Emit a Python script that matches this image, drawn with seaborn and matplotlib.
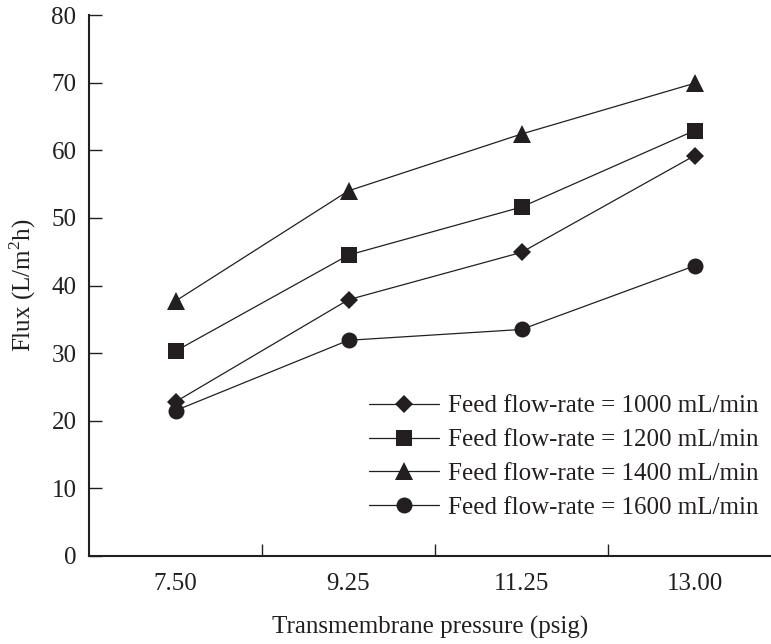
import matplotlib
matplotlib.use("Agg")
import matplotlib.pyplot as plt
import seaborn as sns
import pandas as pd
from matplotlib.ticker import FixedLocator

pressure = ["7.50", "9.25", "11.25", "13.00"]
flow_labels = ["Feed flow-rate = 1000 mL/min", "Feed flow-rate = 1200 mL/min",
               "Feed flow-rate = 1400 mL/min", "Feed flow-rate = 1600 mL/min"]
flux_1000 = [22.8, 37.9, 44.9, 59.2]
flux_1200 = [30.3, 44.5, 51.6, 62.9]
flux_1400 = [37.7, 54.0, 62.4, 69.9]
flux_1600 = [21.5, 31.9, 33.5, 42.9]

rows = []
for lab, vals in zip(flow_labels, [flux_1000, flux_1200, flux_1400, flux_1600]):
    for p, v in zip(pressure, vals):
        rows.append({"pressure": p, "flux": v, "flow": lab})
df = pd.DataFrame(rows)

sns.set_style("ticks")
plt.rcParams["font.family"] = ["Liberation Serif", "DejaVu Serif"]
plt.rcParams["mathtext.fontset"] = "custom"
plt.rcParams["mathtext.rm"] = "Liberation Serif"

FS = 18
ink = "#231f20"
markers = dict(zip(flow_labels, ["D", "s", "^", "o"]))
sizes = dict(zip(flow_labels, [9.5, 12, 12.5, 11.5]))
palette = {k: ink for k in flow_labels}

fig = plt.figure(figsize=(7.71, 6.44), dpi=100)
ax = fig.add_axes([89 / 771, 1 - 556 / 644, (771 - 89) / 771, (556 - 15) / 644])

sns.lineplot(data=df, x="pressure", y="flux", hue="flow", style="flow",
             hue_order=flow_labels, style_order=flow_labels,
             markers=markers, dashes=False, palette=palette,
             linewidth=0.9, markeredgewidth=0, ax=ax)

for line, lab in zip(ax.lines, flow_labels):
    line.set_markersize(sizes[lab])
    line.set_markeredgewidth(0)

ax.set_ylim(0, 80)
ax.set_yticks(range(0, 81, 10))
ax.set_xlim(-0.5, -0.5 + (771 - 89) / 173)
ax.set_xticks(range(4))
ax.set_xticklabels(pressure)
ax.xaxis.set_minor_locator(FixedLocator([0.5, 1.5, 2.5]))
ax.tick_params(axis="x", which="major", length=0, pad=12, labelsize=FS, colors=ink)
ax.tick_params(axis="x", which="minor", length=9, width=1, direction="in", color=ink)
ax.tick_params(axis="y", which="major", length=9, width=1, direction="in", pad=9,
               labelsize=FS, colors=ink)
sns.despine(ax=ax)
for s in ["left", "bottom"]:
    ax.spines[s].set_linewidth(1.5)
    ax.spines[s].set_color(ink)

ax.set_xlabel("Transmembrane pressure (psig)", fontsize=FS, color=ink, labelpad=15)
ax.set_ylabel(r"Flux (L/m$^{\mathregular{2}}$h)", fontsize=FS, color=ink, labelpad=10)

sns.move_legend(ax, "upper left", bbox_to_anchor=(369 / 771, 1 - 395 / 644),
                bbox_transform=fig.transFigure, title=None, frameon=False,
                fontsize=FS, handlelength=2.8, handletextpad=0.36,
                labelspacing=0.45, borderpad=0, borderaxespad=0)
leg = ax.get_legend()
for h, lab in zip(leg.legend_handles, flow_labels):
    h.set_markersize(sizes[lab])
    h.set_markeredgewidth(0)
    h.set_linewidth(0.9)
    h.set_color(ink)
for t in leg.get_texts():
    t.set_color(ink)

fig.savefig("out.png", dpi=100)
